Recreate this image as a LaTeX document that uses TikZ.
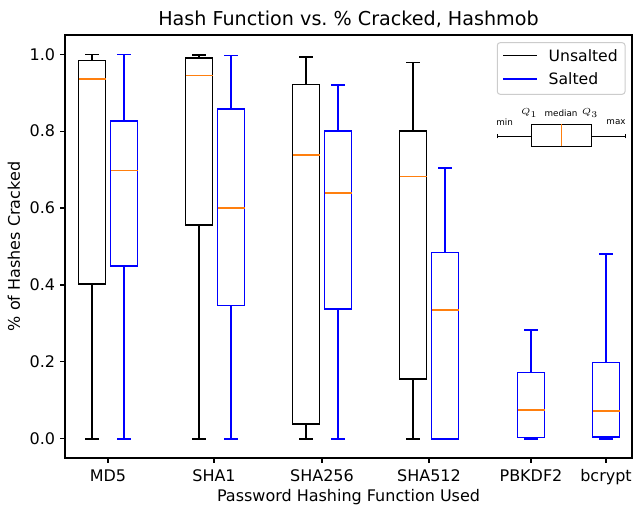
\documentclass[tikz,border=0pt]{standalone}
\usepackage{fontspec}
\setmainfont{DejaVu Sans}

\definecolor{medorange}{HTML}{FF7F0E}
\definecolor{legedge}{HTML}{CCCCCC}

\tikzset{
    ticklabel/.style={font=\fontsize{9.1}{11}\selectfont, inner sep=0pt},
    legtext/.style={font=\fontsize{8.9}{11}\selectfont, inner sep=0pt},
    spine/.style={line width=0.74pt},
    boxline/.style={line width=0.92pt},
    medline/.style={line width=0.92pt, medorange},
    keylabel/.style={font=\fontsize{5}{6}\selectfont, inner sep=0pt}
}

% color, centre, min, Q1, median, Q3, max
\newcommand{\whiskerbox}[7]{%
    \draw[boxline, #1] (#2-13.5,#4) rectangle (#2+13.5,#6);
    \draw[boxline, #1] (#2,#4) -- (#2,#3) (#2-7,#3) -- (#2+7,#3);
    \draw[boxline, #1] (#2,#6) -- (#2,#7) (#2-7,#7) -- (#2+7,#7);
    \draw[medline] (#2-13.5,#5) -- (#2+13.5,#5);
}

\begin{document}
\begin{tikzpicture}[x=0.02cm, y=0.02cm]
    \useasboundingbox (0,0) rectangle (634,506);

    \node[anchor=base, font=\fontsize{10.9}{13}\selectfont] (title) at (348.5,480)
	{Hash Function vs.\ \% Cracked, Hashmob};

    % data
    \begin{scope}[shift={(0,67.3)}, y=7.688cm]
	\whiskerbox{black}{92}{0}{0.403}{0.936}{0.984}{1.0}
	\whiskerbox{blue}{124}{0}{0.449}{0.698}{0.826}{1.0}
	\whiskerbox{black}{199}{0}{0.556}{0.945}{0.990}{0.998}
	\whiskerbox{blue}{231}{0}{0.347}{0.601}{0.858}{0.997}
	\whiskerbox{black}{306}{0}{0.038}{0.738}{0.922}{0.993}
	\whiskerbox{blue}{338}{0}{0.337}{0.639}{0.800}{0.921}
	\whiskerbox{black}{413}{0}{0.155}{0.682}{0.800}{0.979}
	\whiskerbox{blue}{445}{0}{0}{0.335}{0.484}{0.705}
	\whiskerbox{blue}{531}{0}{0.003}{0.074}{0.172}{0.283}
	\whiskerbox{blue}{606}{0}{0.005}{0.072}{0.198}{0.481}
    \end{scope}

    % axes
    \draw[spine] (65,48.1) rectangle (632,470.9);
    \foreach \k/\v in {0/0.0, 1/0.2, 2/0.4, 3/0.6, 4/0.8, 5/1.0} {
	\draw[spine] (65,67.3+76.88*\k) -- (60.1,67.3+76.88*\k);
	\node[ticklabel, anchor=east] (y\k) at (55.5,67.3+76.88*\k) {\v};
    }
    \foreach \x/\name in {108/MD5, 214/SHA1, 322/SHA256, 429/SHA512, 531/PBKDF2, 606/bcrypt} {
	\draw[spine] (\x,48.1) -- (\x,43.2);
	\node[ticklabel, anchor=base] (x\name) at (\x,24.2) {\name};
    }
    \node[ticklabel, anchor=base] (xlabel) at (348.5,4.5) {Password Hashing Function Used};
    \node[ticklabel, rotate=90] (ylabel) at (14,259.5) {\% of Hashes Cracked};

    % legend
    \draw[legedge, fill=white, line width=0.57pt, rounded corners=1.6pt]
	(497.3,411.7) rectangle (625,463.3);
    \draw[boxline, black] (503.3,450.3) -- (536.7,450.3);
    \draw[boxline, blue] (503.3,427) -- (536.7,427);
    \node[legtext, anchor=west] (unsalted) at (548.3,450.3) {Unsalted};
    \node[legtext, anchor=west] (salted) at (548.3,427) {Salted};

    % key
    \draw[line width=0.4pt] (497.3,369.7) -- (531.3,369.7) (591.7,369.7) -- (625.7,369.7);
    \draw[line width=0.4pt] (497.3,367.7) -- (497.3,371.7) (625.7,367.7) -- (625.7,371.7);
    \draw[line width=0.4pt] (531.3,359.7) rectangle (591.7,381.7);
    \draw[line width=0.4pt, medorange] (561.3,359.7) -- (561.3,381.7);
    \node[keylabel] (kmin) at (504.7,383.7) {min};
    \node[keylabel] (kmax) at (616,383.7) {max};
    \node[keylabel] (kq1) at (529.3,392.7) {$Q_1$};
    \node[keylabel] (kmed) at (561,392.7) {median};
    \node[keylabel] (kq3) at (590,392.7) {$Q_3$};
\end{tikzpicture}
\end{document}
